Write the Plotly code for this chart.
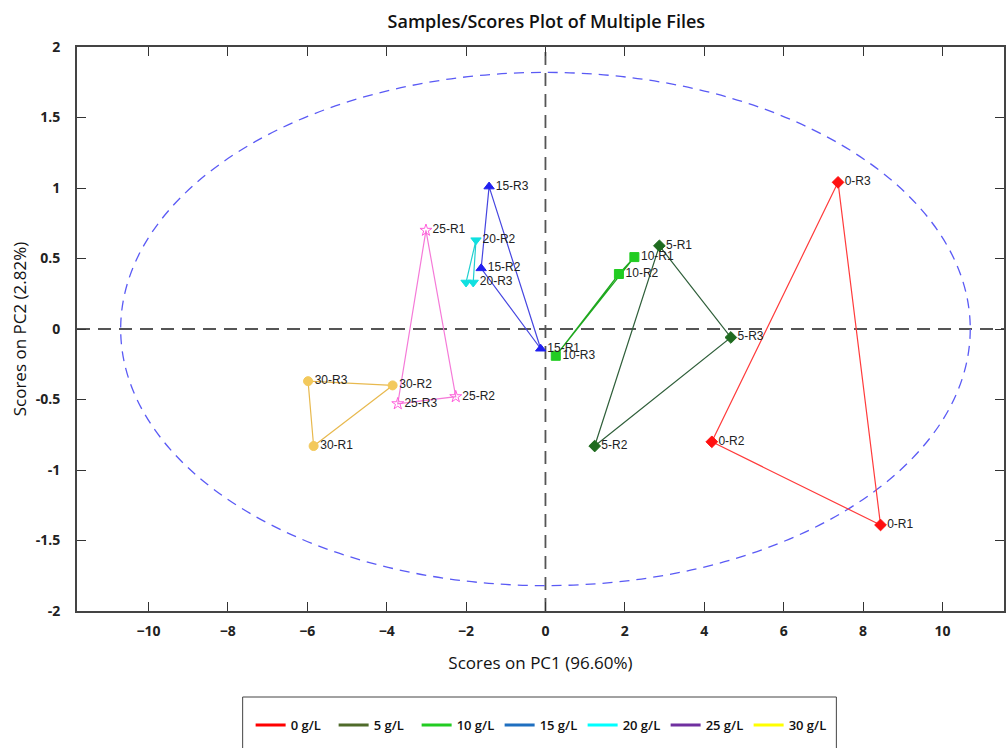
import plotly.graph_objects as go

# ---- data (PC1, PC2 scores) ----
groups = ["0 g/L", "5 g/L", "10 g/L", "15 g/L", "20 g/L", "25 g/L", "30 g/L"]
labels = [
    ["0-R1", "0-R2", "0-R3"],
    ["5-R1", "5-R2", "5-R3"],
    ["10-R1", "10-R2", "10-R3"],
    ["15-R1", "15-R2", "15-R3"],
    ["", "20-R2", "20-R3"],
    ["25-R1", "25-R2", "25-R3"],
    ["30-R1", "30-R2", "30-R3"],
]
pc1 = [
    [8.44, 4.19, 7.37],
    [2.87, 1.24, 4.67],
    [2.24, 1.85, 0.26],
    [-0.12, -1.62, -1.42],
    [-2.00, -1.75, -1.82],
    [-3.01, -2.26, -3.72],
    [-5.84, -3.85, -5.98],
]
pc2 = [
    [-1.39, -0.80, 1.04],
    [0.59, -0.83, -0.06],
    [0.51, 0.39, -0.19],
    [-0.14, 0.43, 1.01],
    [0.33, 0.63, 0.33],
    [0.70, -0.48, -0.53],
    [-0.83, -0.40, -0.37],
]
ellipse_rx = 10.7
ellipse_ry = 1.82

# ---- styles ----
line_colors = ["#ff3b3b", "#2f5f3a", "#1fa81f", "#4646e0", "#20d0d0", "#f57ad8", "#e8b94e"]
marker_colors = ["#ff1010", "#1f6b1f", "#22cc22", "#2020f0", "#10e0e0", "#ff5fdc", "#f3c95c"]
marker_symbols = ["diamond", "diamond", "square", "triangle-up", "triangle-down", "star-open", "circle"]
legend_colors = ["#ff0000", "#4f6b2a", "#22cc22", "#1f6fc0", "#00ffff", "#7030a0", "#ffff00"]

fig = go.Figure()

# ellipse (confidence limit)
fig.add_shape(type="circle", xref="x", yref="y",
              x0=-ellipse_rx, x1=ellipse_rx, y0=-ellipse_ry, y1=ellipse_ry,
              line=dict(color="#5a5af5", width=1.3, dash="10px,7px"), layer="below")
# zero lines
fig.add_shape(type="line", xref="x", yref="paper", x0=0, x1=0, y0=0, y1=1,
              line=dict(color="#555555", width=1.8, dash="13px,8px"), layer="below")
fig.add_shape(type="line", xref="paper", yref="y", x0=0, x1=1, y0=0, y1=0,
              line=dict(color="#555555", width=1.8, dash="13px,8px"), layer="below")

# legend box
fig.add_shape(type="rect", xref="paper", yref="paper",
              x0=(243 - 77) / 929, x1=(838 - 77) / 929,
              y0=-(760 - 611) / 564, y1=-(697 - 611) / 564,
              line=dict(color="#444444", width=1), fillcolor="white")

for i, g in enumerate(groups):
    xs = pc1[i] + [pc1[i][0]]
    ys = pc2[i] + [pc2[i][0]]
    fig.add_trace(go.Scatter(x=xs, y=ys, mode="lines", showlegend=False,
                             line=dict(color=line_colors[i], width=1.2), hoverinfo="skip"))
    fig.add_trace(go.Scatter(x=pc1[i], y=pc2[i], mode="markers+text", showlegend=False,
                             text=labels[i], textposition="middle right",
                             textfont=dict(family="Liberation Sans, Arial", size=12, color="#222222"),
                             marker=dict(symbol=marker_symbols[i], size=9, color=marker_colors[i],
                                         line=dict(width=1, color=marker_colors[i]))))

for i, g in enumerate(groups):
    fig.add_trace(go.Scatter(x=[None], y=[None], mode="lines", name=g,
                             line=dict(color=legend_colors[i], width=3)))

axis_font = dict(family="Open Sans", size=14, color="#222222", weight="bold")
fig.update_layout(
    width=1008, height=748,
    margin=dict(l=77, r=2, t=47, b=137),
    paper_bgcolor="white", plot_bgcolor="white",
    title=dict(text="Samples/Scores Plot of Multiple Files", x=0.542, xanchor="center",
               y=0.971, yanchor="middle",
               font=dict(family="Open Sans", size=18, color="#111111", weight=600)),
    xaxis=dict(range=[-11.8, 11.55], tickvals=[-10, -8, -6, -4, -2, 0, 2, 4, 6, 8, 10],
               showgrid=False, zeroline=False, ticks="inside", ticklen=9, tickcolor="#333",
               showline=True, linecolor="#444", linewidth=2, mirror="ticks",
               tickfont=axis_font, ticklabelstandoff=6,
               title=dict(text="Scores on PC1 (96.60%)", standoff=18,
                          font=dict(family="Open Sans", size=17, color="#111"))),
    yaxis=dict(range=[-2, 2], tickvals=[-2, -1.5, -1, -0.5, 0, 0.5, 1, 1.5, 2],
               ticktext=["-2", "-1.5", "-1", "-0.5", "0", "0.5", "1", "1.5", "2"],
               showgrid=False, zeroline=False, ticks="inside", ticklen=9, tickcolor="#333",
               showline=True, linecolor="#444", linewidth=2, mirror="ticks",
               tickfont=axis_font, ticklabelstandoff=12,
               title=dict(text="Scores on PC2 (2.82%)", standoff=5,
                          font=dict(family="Open Sans", size=17, color="#111"))),
    legend=dict(orientation="h", x=(251 - 77) / 929, xanchor="left",
                y=-(710 - 611) / 564, yanchor="top",
                borderwidth=0, bgcolor="rgba(0,0,0,0)",
                entrywidth=38, entrywidthmode="pixels",
                font=dict(family="Open Sans", size=13, color="#111", weight=600)),
)

fig.write_html("out.html")
